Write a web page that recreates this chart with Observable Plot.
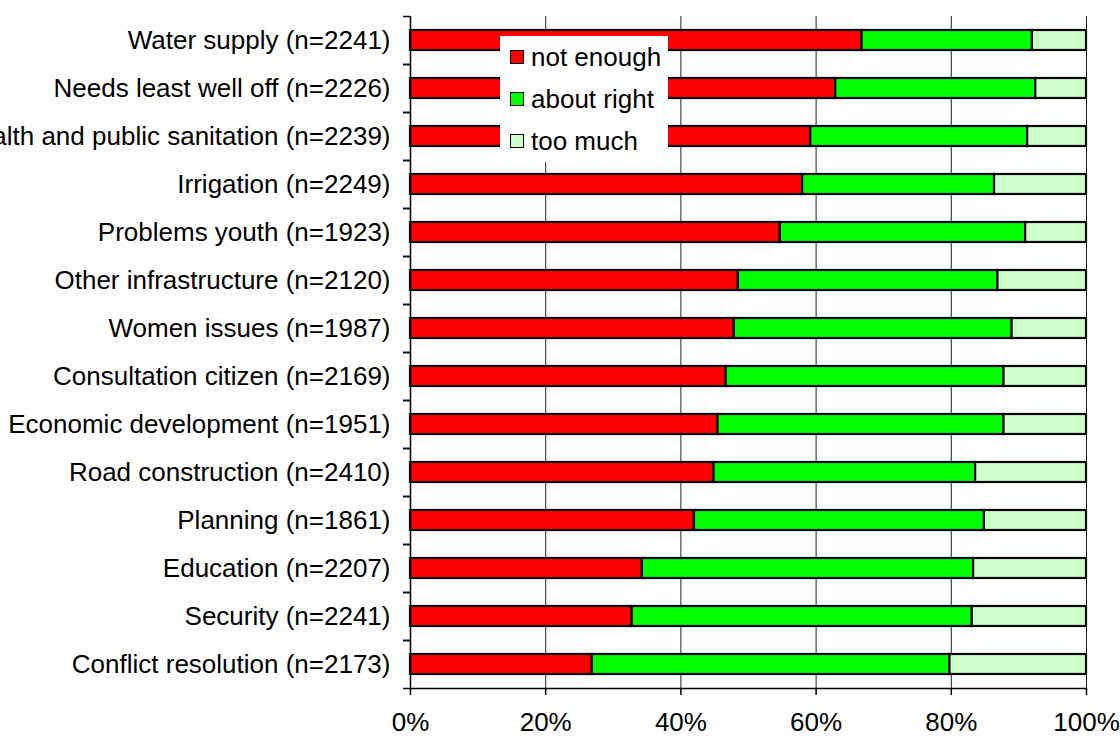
<!DOCTYPE html>
<html>
<head>
<meta charset="utf-8">
<script src="https://cdn.jsdelivr.net/npm/d3@7"></script>
<script src="https://cdn.jsdelivr.net/npm/@observablehq/plot@0.6"></script>
<style>
  html, body { margin: 0; padding: 0; background: #fff; overflow: hidden; }
  #wrap { position: relative; width: 1120px; height: 738px; font-family: "Liberation Sans", Arial, sans-serif; }
  #title { position: absolute; left: -6px; top: -18px; font-size: 25px; line-height: 25px; white-space: nowrap; color: #000; }
  #chart { position: absolute; left: 0; top: 0; }
  #legend { position: absolute; left: 500px; top: 36px; width: 168px; height: 126px; background: #fff; font-size: 26px; color: #000; }
  #legend .row { position: absolute; left: 10px; height: 30px; line-height: 30px; white-space: nowrap; }
  #legend .sw { display: inline-block; width: 12px; height: 12px; border: 1.5px solid #000; vertical-align: middle; margin-right: 7px; position: relative; top: -2px; }
</style>
</head>
<body>
<div id="wrap">
  <div id="title">Figure 8: Council attention by Council members to priority matters</div>
  <div id="chart"></div>
  <div id="legend"></div>
</div>
<script>
// Issues, top to bottom, with the number of respondents
const categories = [
  "Water supply (n=2241)",
  "Needs least well off (n=2226)",
  "Public health and public sanitation (n=2239)",
  "Irrigation (n=2249)",
  "Problems youth (n=1923)",
  "Other infrastructure (n=2120)",
  "Women issues (n=1987)",
  "Consultation citizen (n=2169)",
  "Economic development (n=1951)",
  "Road construction (n=2410)",
  "Planning (n=1861)",
  "Education (n=2207)",
  "Security (n=2241)",
  "Conflict resolution (n=2173)"
];

// Share of answers (%) per issue
const notEnough  = [66.8, 62.9, 59.2, 58.0, 54.7, 48.5, 47.9, 46.7, 45.5, 44.9, 42.0, 34.3, 32.8, 26.9];
const aboutRight = [25.2, 29.6, 32.1, 28.4, 36.3, 38.4, 41.1, 41.1, 42.3, 38.7, 42.9, 49.0, 50.3, 52.9];
const tooMuch    = [ 8.0,  7.5,  8.7, 13.6,  9.0, 13.1, 11.0, 12.2, 12.2, 16.4, 15.1, 16.7, 16.9, 20.2];

const series = ["not enough", "about right", "too much"];
const colors = ["#FF0000", "#00FF00", "#CCFFCC"];
const xTicks = [0, 20, 40, 60, 80, 100];

const values = [notEnough, aboutRight, tooMuch];
const rows = categories.flatMap((cat, i) =>
  series.map((s, k) => ({cat, s, v: values[k][i]}))
);

const chart = Plot.plot({
  width: 1120,
  height: 738,
  marginLeft: 410,
  marginRight: 34,
  marginTop: 16,
  marginBottom: 50,
  style: {fontFamily: "'Liberation Sans', Arial, sans-serif", fontSize: "26px", color: "#000", background: "#fff", overflow: "visible"},
  x: {domain: [0, 100]},
  y: {domain: categories, paddingInner: 0.58, paddingOuter: 0.29},
  color: {domain: series, range: colors},
  marks: [
    Plot.ruleX(xTicks.slice(1), {stroke: "#222", strokeWidth: 1}),
    Plot.barX(rows, Plot.stackX({x: "v", y: "cat", fill: "s", order: series, stroke: "#000", strokeWidth: 2.2})),
    Plot.ruleX([0], {stroke: "#000", strokeWidth: 1.5}),
    Plot.ruleY([categories[categories.length - 1]], {dy: 24, stroke: "#000", strokeWidth: 1.5}),
    Plot.axisY({tickSize: 0, tickPadding: 20, label: null, fontSize: 26}),
    Plot.axisY({tickSize: 7, tickFormat: () => "", label: null, dy: -24, strokeWidth: 1.5}),
    Plot.axisY({tickSize: 7, tickFormat: () => "", label: null, dy: 24, strokeWidth: 1.5}),
    Plot.axisX(xTicks, {tickSize: 7, tickPadding: 17, tickFormat: d => d + "%", label: null, fontSize: 26, strokeWidth: 1.5})
  ]
});
document.getElementById("chart").append(chart);

// Legend box drawn over the upper bars
const legend = document.getElementById("legend");
series.forEach((s, k) => {
  const row = document.createElement("div");
  row.className = "row";
  row.style.top = (6 + k * 42) + "px";
  const sw = document.createElement("span");
  sw.className = "sw";
  sw.style.background = colors[k];
  row.append(sw, document.createTextNode(s));
  legend.append(row);
});
</script>
</body>
</html>
